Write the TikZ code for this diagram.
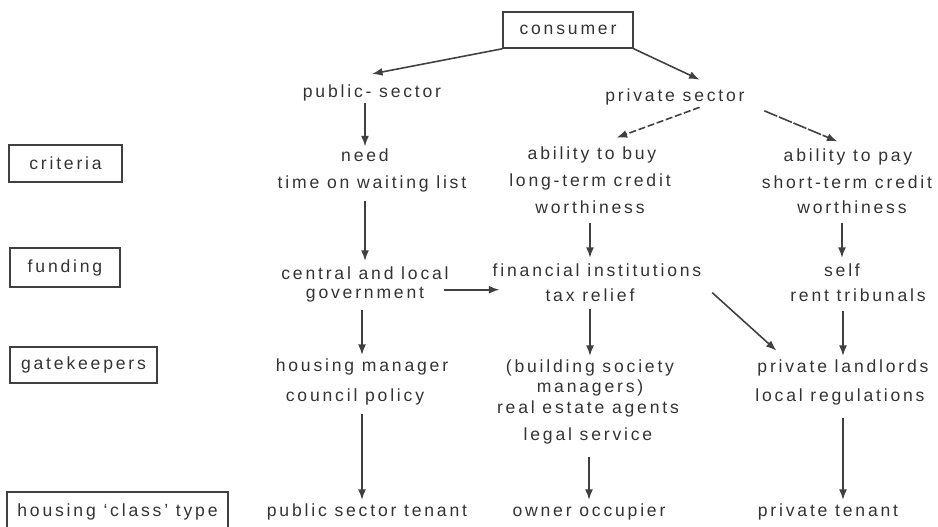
\documentclass[tikz,border=0pt]{standalone}
\usepackage{fontspec}
\setmainfont{Liberation Sans}[LetterSpace=16]
\usepackage{tikz}
\usetikzlibrary{calc,arrows.meta}

\begin{document}
\begin{tikzpicture}[x=0.02cm,y=-0.02cm,font=\fontsize{10}{12}\selectfont,
    txt/.style={inner sep=1pt,text=black!80},
    box/.style={draw=black!75,line width=0.9pt,inner sep=0pt,text=black!80},
    arr/.style={-{Latex[length=6pt,width=4.5pt]},line width=0.9pt,draw=black!75}]
    \useasboundingbox (0,0) rectangle (938,527);
    % row headings
    \node[box,minimum width=2.6cm,minimum height=0.72cm] (consumer) at (568,30) {consumer};
    \node[box,minimum width=2.26cm,minimum height=0.74cm] (criteria) at (65.5,163.5) {criteria};
    \node[box,minimum width=2.2cm,minimum height=0.78cm] (funding) at (65,267.5) {funding};
    \node[box,minimum width=2.94cm,minimum height=0.72cm] (gatekeepers) at (83.5,365) {gatekeepers};
    \node[box,minimum width=4.42cm,minimum height=0.8cm] (classtype) at (117.5,512) {housing `class' type};
    % sectors
    \node[txt] (public) at (372,93) {public- sector};
    \node[txt] (private) at (675,97) {private sector};
    % criteria
    \node[txt] (need) at (365,155) {need};
    \node[txt] (waiting) at (372,184) {time on waiting list};
    \node[txt] (buy) at (592,155) {ability to buy};
    \node[txt] (longterm) at (590,182) {long-term credit};
    \node[txt] (worthyA) at (590,207) {worthiness};
    \node[txt] (pay) at (848,157) {ability to pay};
    \node[txt] (shortterm) at (847,182) {short-term credit};
    \node[txt] (worthyB) at (852,207) {worthiness};
    % funding
    \node[txt] (central) at (365,273) {central and local};
    \node[txt] (govt) at (365,295) {government};
    \node[txt] (fin) at (597,270) {financial institutions};
    \node[txt] (tax) at (590,295) {tax relief};
    \node[txt] (self) at (842,270) {self};
    \node[txt] (tribunals) at (858,295) {rent tribunals};
    % gatekeepers
    \node[txt] (hmanager) at (362,367) {housing manager};
    \node[txt] (policy) at (355,397) {council policy};
    \node[txt] (building) at (590,368) {(building society};
    \node[txt] (managers) at (590,388) {managers)};
    \node[txt] (realestate) at (588,409) {real estate agents};
    \node[txt] (legal) at (588,436) {legal service};
    \node[txt] (landlords) at (843,368) {private landlords};
    \node[txt] (regulations) at (840,397) {local regulations};
    % housing class
    \node[txt] (pubtenant) at (367,512) {public sector tenant};
    \node[txt] (owner) at (589,512) {owner occupier};
    \node[txt] (privtenant) at (828,512) {private tenant};

    \draw[arr] (consumer.south west) -- ([yshift=5pt]public.north);
    \draw[arr] (consumer.south east) -- ([xshift=14pt,yshift=4pt]private.north);
    \draw[arr] (public.south -| need) -- (need.north);
    \draw[arr,dash pattern=on 4pt off 1.5pt] ([xshift=14pt]private.south) -- ([xshift=14pt,yshift=4pt]buy.north);
    \draw[arr,dash pattern=on 8pt off 1pt] ([xshift=10pt,yshift=-2pt]private.south east) -- ([xshift=-6pt,yshift=3pt]pay.north);
    \draw[arr] ([yshift=-4pt]waiting.south -| central) -- ([yshift=2pt]central.north);
    \draw[arr] ([yshift=-4pt]worthyA.south) -- ([yshift=2pt]worthyA.south |- fin.north);
    \draw[arr] ([yshift=-4pt]worthyB.south -| self) -- ([yshift=2pt]self.north);
    \draw[arr] ([xshift=10pt,yshift=3pt]govt.east) -- ([xshift=5pt,yshift=3pt]govt.east -| fin.west);
    \draw[arr] ([xshift=5pt,yshift=-8pt]fin.south east) -- ([xshift=12pt,yshift=4pt]landlords.north west);
    \draw[arr] ([yshift=-3pt]govt.south -| hmanager) -- ([yshift=1pt]hmanager.north);
    \draw[arr] ([yshift=-3pt]tax.south -| building) -- ([yshift=1pt]building.north);
    \draw[arr] ([yshift=-4pt]tribunals.south -| landlords) -- ([yshift=1pt]landlords.north);
    \draw[arr] ([yshift=-4pt]policy.south -| hmanager) -- ([yshift=1pt]hmanager.north |- pubtenant.north);
    \draw[arr] ([yshift=-6pt]legal.south -| owner) -- ([yshift=1pt]owner.north);
    \draw[arr] ([yshift=-6pt]regulations.south -| landlords) -- ([yshift=1pt]landlords.south |- privtenant.north);
\end{tikzpicture}
\end{document}
